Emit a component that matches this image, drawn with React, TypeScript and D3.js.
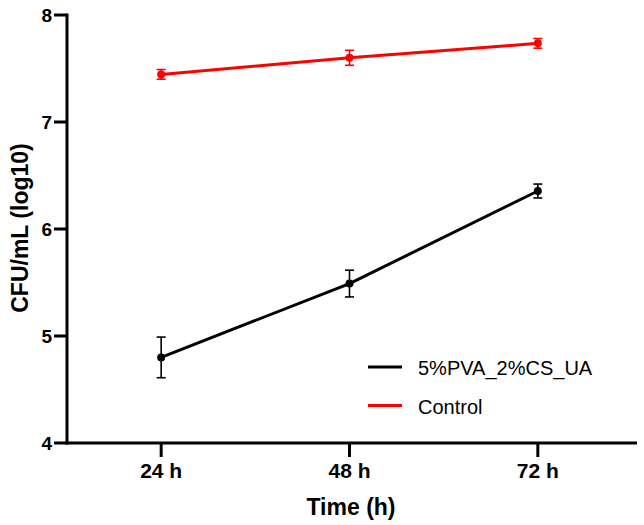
import React from "react";
import * as d3 from "d3";

const categories = ["24 h", "48 h", "72 h"];
const treatedMean = [4.8, 5.49, 6.355];
const treatedErr = [0.19, 0.125, 0.065];
const controlMean = [7.445, 7.6, 7.735];
const controlErr = [0.045, 0.07, 0.045];
const yTicks = [4, 5, 6, 7, 8];
const seriesNames = ["5%PVA_2%CS_UA", "Control"];
const seriesColors = ["#000000", "#ff0000"];

const W = 644;
const H = 525;
const FONT = "'Liberation Sans', Arial, sans-serif";

export default function App() {
  const x = d3.scalePoint<string>().domain(categories).range([67, 632]).padding(0.5);
  const y = d3.scaleLinear().domain([4, 8]).range([443, 15]);
  const line = d3
    .line<number>()
    .x((_, i) => x(categories[i]) as number)
    .y((d) => y(d));

  const series = [
    { mean: treatedMean, err: treatedErr, color: seriesColors[0] },
    { mean: controlMean, err: controlErr, color: seriesColors[1] },
  ];

  return (
    <svg width={W} height={H} style={{ position: "absolute", left: 0, top: 0, background: "#fff" }}>
      {/* series */}
      {series.map((s, si) => (
        <g key={si}>
          <path d={line(s.mean) || ""} fill="none" stroke={s.color} strokeWidth={3} />
          {s.mean.map((m, i) => {
            const cx = x(categories[i]) as number;
            return (
              <g key={i}>
                <line x1={cx} x2={cx} y1={y(m + s.err[i])} y2={y(m - s.err[i])} stroke={s.color} strokeWidth={1.6} />
                <line x1={cx - 4.5} x2={cx + 4.5} y1={y(m + s.err[i])} y2={y(m + s.err[i])} stroke={s.color} strokeWidth={1.6} />
                <line x1={cx - 4.5} x2={cx + 4.5} y1={y(m - s.err[i])} y2={y(m - s.err[i])} stroke={s.color} strokeWidth={1.6} />
                <circle cx={cx} cy={y(m)} r={4} fill={s.color} />
              </g>
            );
          })}
        </g>
      ))}

      {/* y axis */}
      <line x1={67} x2={67} y1={y(8) - 1.5} y2={y(4) + 1.5} stroke="#000" strokeWidth={3} />
      {yTicks.map((t) => (
        <g key={t}>
          <line x1={54} x2={67} y1={y(t)} y2={y(t)} stroke="#000" strokeWidth={3} />
          <text x={52} y={y(t)} dy="0.36em" textAnchor="end" fontFamily={FONT} fontWeight="bold" fontSize={19}>
            {t}
          </text>
        </g>
      ))}

      {/* x axis */}
      <line x1={65.5} x2={637} y1={y(4)} y2={y(4)} stroke="#000" strokeWidth={3} />
      {categories.map((c) => (
        <g key={c}>
          <line x1={x(c) as number} x2={x(c) as number} y1={y(4)} y2={y(4) + 14} stroke="#000" strokeWidth={3} />
          <text x={x(c) as number} y={478} textAnchor="middle" fontFamily={FONT} fontWeight="bold" fontSize={21}>
            {c}
          </text>
        </g>
      ))}

      {/* axis titles */}
      <text x={351} y={515} textAnchor="middle" fontFamily={FONT} fontWeight="bold" fontSize={23}>
        Time (h)
      </text>
      <text
        transform={`translate(28, 228) rotate(-90)`}
        textAnchor="middle"
        fontFamily={FONT}
        fontWeight="bold"
        fontSize={23}
      >
        CFU/mL (log10)
      </text>

      {/* legend */}
      {seriesNames.map((n, i) => (
        <g key={n}>
          <line x1={368} x2={402} y1={367 + i * 38.5} y2={367 + i * 38.5} stroke={seriesColors[i]} strokeWidth={3} />
          <text x={418} y={375 + i * 38.5} fontFamily={FONT} fontSize={20}>
            {n}
          </text>
        </g>
      ))}
    </svg>
  );
}
